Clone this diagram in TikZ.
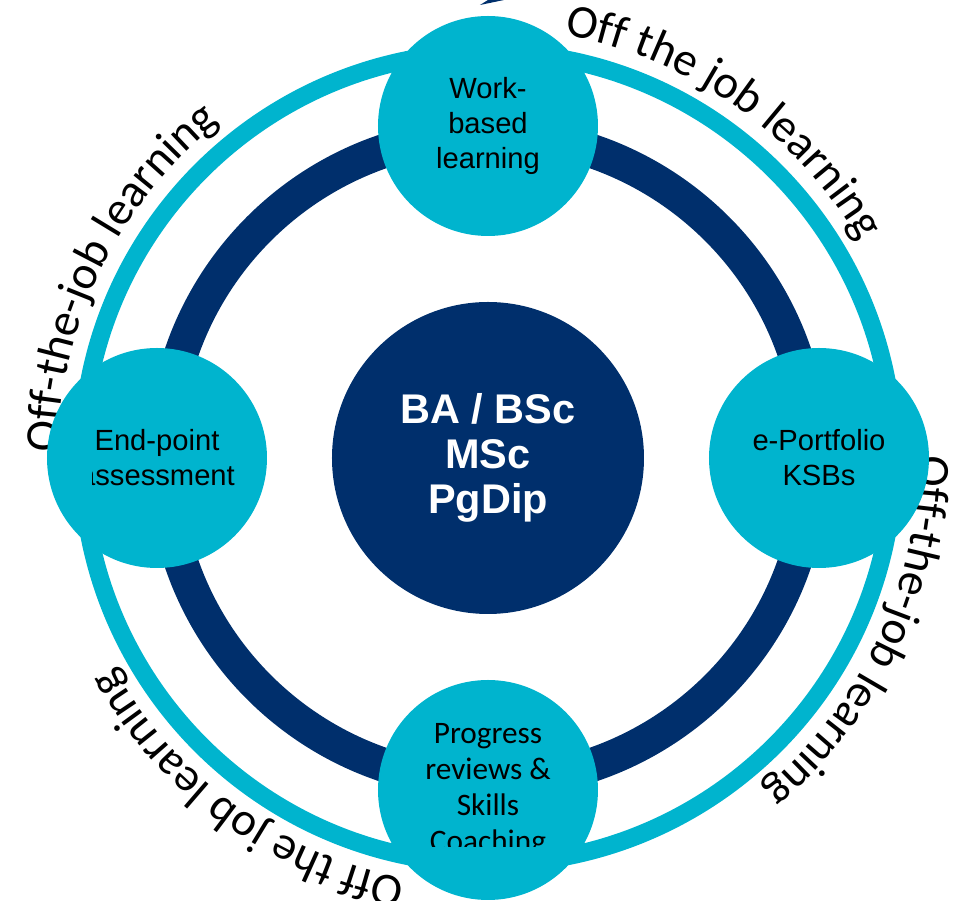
\documentclass[tikz,border=0pt]{standalone}
\usepackage{fontspec}
\setmainfont{Liberation Sans}
\newfontfamily\calibri{Carlito}
\usetikzlibrary{decorations.text}
\definecolor{navy}{RGB}{0,47,108}
\definecolor{aqua}{RGB}{0,180,206}

\begin{document}
\begin{tikzpicture}[
    hub/.style={circle,fill=navy,minimum size=3.12cm,inner sep=0pt,text=white,align=center,
                font=\bfseries\fontsize{11.8}{12.8}\selectfont},
    spoke/.style={circle,fill=aqua,minimum size=2.2cm,inner sep=0pt},
    spoketext/.style={align=center,font=\fontsize{8.3}{10}\selectfont},
    arclabel/.style={decorate,decoration={text along path,text align=center,
                text={|\calibri\fontsize{13.4}{16}\selectfont|#1}}}
  ]
  \useasboundingbox (-4.88,-4.43) rectangle (4.78,4.58);
  % bit of dark shape cut off at the top edge
  \fill[navy] (-0.08,4.53) -- (0.16,4.58) -- (0.0,4.58) -- cycle;
  % the two rings
  \draw[aqua,line width=0.18cm] (0,0) circle (4.06);
  \draw[navy,line width=0.34cm] (0,0) circle (3.24);
  % labels round the outer ring
  \path[arclabel={Off the job learning}] (85:4.3) arc (85:25:4.3);
  \path[arclabel={Off-the-job learning}] (184:4.3) arc (184:124:4.3);
  \path[arclabel={Off-the-job learning}] (5:4.3) arc (5:-55:4.3);
  \path[arclabel={Off the job learning}] (-96:4.29) arc (-96:-156:4.29);
  % centre
  \node[hub] (degree) at (0,0) {BA / BSc\\MSc\\PgDip};
  % circles on the ring
  \node[spoke,spoketext] (work) at (90:3.32) {Work-\\based\\learning};
  \node[spoke,spoketext] (portfolio) at (0:3.31) {e-Portfolio\\KSBs};
  \node[spoke] (epa) at (180:3.31) {};
  \node[spoke] (review) at (-90:3.32) {};
  \begin{scope}
    \clip (-3.95,-1) rectangle (-2,1);
    \node[spoketext] (epatext) at (epa) {End-point\\assessment};
  \end{scope}
  \begin{scope}
    \clip (-1,-3.89) rectangle (1,-2);
    \node[align=center,font=\calibri\fontsize{8.9}{10.2}\selectfont] (reviewtext) at (review) {Progress\\reviews \&\\Skills\\Coaching};
  \end{scope}
\end{tikzpicture}
\end{document}
